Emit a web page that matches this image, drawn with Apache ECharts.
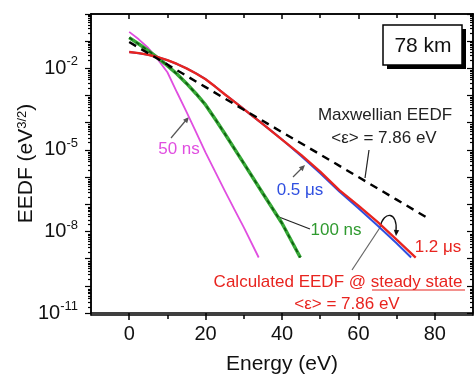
<!DOCTYPE html>
<html>
<head>
<meta charset="utf-8">
<script src="https://cdn.jsdelivr.net/npm/echarts@6/dist/echarts.min.js"></script>
<style>
  html, body { margin: 0; padding: 0; background: #fff; }
  #chart { width: 476px; height: 380px; }
</style>
</head>
<body>
<div id="chart"></div>
<script>
// Electron energy (eV) and EEDF (eV^-3/2) for each time step at 78 km
const energy50ns  = [0, 2.5, 5, 7.5, 10, 12.5, 15, 17.5, 20, 22.5, 25, 27.5, 30, 33.9];
const eedf50ns    = [2.2e-1, 1.17e-1, 5.6e-2, 2.14e-2, 7.2e-3, 1.32e-3, 2.5e-4, 4.5e-5, 7.9e-6, 1.58e-6, 3.2e-7, 6.6e-8, 1.41e-8, 1.1e-9];

const energy100ns = [0, 2.5, 5, 7.5, 10, 12.5, 15, 17.5, 20, 22.5, 25, 30, 35, 40, 44.8];
const eedf100ns   = [1.35e-1, 7.9e-2, 4.5e-2, 2.45e-2, 1.26e-2, 6.2e-3, 2.8e-3, 1.17e-3, 4.5e-4, 1.38e-4, 4.0e-5, 3.2e-6, 2.5e-7, 2.0e-8, 1.1e-9];

const energy05us  = [0, 2.5, 5, 7.5, 10, 12.5, 15, 17.5, 20, 22.5, 25, 27.5, 30, 35, 40, 45, 50, 55, 60, 65, 70, 73.8];
const eedf05us    = [4.0e-2, 3.63e-2, 3.16e-2, 2.57e-2, 2.0e-2, 1.45e-2, 1.0e-2, 6.5e-3, 4.0e-3, 2.14e-3, 1.12e-3, 6.0e-4, 3.16e-4, 8.9e-5, 2.4e-5, 6.0e-6, 1.38e-6, 2.95e-7, 7.2e-8, 1.66e-8, 3.7e-9, 1.1e-9];

const energy12us  = [0, 2.5, 5, 7.5, 10, 12.5, 15, 17.5, 20, 22.5, 25, 27.5, 30, 35, 40, 45, 50, 55, 60, 65, 70, 75];
const eedf12us    = [4.0e-2, 3.63e-2, 3.16e-2, 2.57e-2, 2.0e-2, 1.45e-2, 1.0e-2, 6.5e-3, 4.0e-3, 2.14e-3, 1.12e-3, 6.0e-4, 3.16e-4, 8.9e-5, 2.4e-5, 6.6e-6, 1.58e-6, 3.3e-7, 8.9e-8, 2.24e-8, 5.0e-9, 1.1e-9];

const energyMaxw  = [0, 10, 20, 30, 40, 50, 60, 70, 78.7];
const eedfMaxw    = [9.3e-2, 1.38e-2, 2.04e-3, 3.0e-4, 4.5e-5, 6.8e-6, 1.0e-6, 1.48e-7, 2.8e-8];

// Axis ticks
const xMajorTicks = [0, 20, 40, 60, 80];
const xMinorTicks = [10, 30, 50, 70];
const yLabelTicks = [1e-11, 1e-8, 1e-5, 1e-2];

const FONT = 'Liberation Sans, Arial, Helvetica, sans-serif';

const zip = (xs, ys) => xs.map((x, i) => [x, ys[i]]);

// Decade and sub-decade tick positions for the log axis
const yDecades = [];
const yMinors = [];
for (let e = -11; e <= 0; e++) {
  yDecades.push(Math.pow(10, e));
  if (e < 0) for (let m = 2; m <= 9; m++) yMinors.push(m * Math.pow(10, e));
}

const chart = echarts.init(document.getElementById('chart'), null, { renderer: 'canvas' });

const axisLineStyle = { color: '#000', width: 1.5 };
const plotRect = { left: 91, right: 3, top: 14, bottom: 65, containLabel: false };

function xAxisDef(grid, position, ticks, len, inside, extra) {
  return Object.assign({
    type: 'value', gridIndex: grid, position, min: -10, max: 90,
    axisLine: { show: true, onZero: false, lineStyle: axisLineStyle },
    axisTick: { show: true, inside, length: len, customValues: ticks, lineStyle: axisLineStyle },
    axisLabel: { show: false },
    splitLine: { show: false }
  }, extra || {});
}

function yAxisDef(grid, position, ticks, len, inside, extra) {
  return Object.assign({
    type: 'log', logBase: 10, gridIndex: grid, position, min: 1e-11, max: 1,
    axisLine: { show: true, onZero: false, lineStyle: axisLineStyle },
    axisTick: { show: true, inside, length: len, customValues: ticks, lineStyle: { color: '#000', width: 1.2 } },
    axisLabel: { show: false },
    splitLine: { show: false }
  }, extra || {});
}

const supRich = {
  b: { fontSize: 20, fontFamily: FONT, color: '#111', lineHeight: 26 },
  s: { fontSize: 13, fontFamily: FONT, color: '#111', verticalAlign: 'top', lineHeight: 13 }
};

function arrowHead(x1, y1, x2, y2, size, color) {
  const a = Math.atan2(y2 - y1, x2 - x1);
  const w = size * 0.45;
  const bx = x2 - size * Math.cos(a), by = y2 - size * Math.sin(a);
  return {
    type: 'polygon',
    shape: { points: [[x2, y2], [bx + w * Math.sin(a), by - w * Math.cos(a)], [bx - w * Math.sin(a), by + w * Math.cos(a)]] },
    style: { fill: color }
  };
}

function seg(x1, y1, x2, y2, color, width) {
  return { type: 'line', shape: { x1, y1, x2, y2 }, style: { stroke: color, lineWidth: width || 1.2 } };
}

function label(x, y, text, color, size) {
  return {
    type: 'text', x, y,
    style: { text, fill: color, font: (size || 17) + 'px ' + FONT, align: 'center', verticalAlign: 'middle' }
  };
}

const RED = '#e8241f', BLUE = '#2f4fe0', GREEN = '#2f9a2f', MAGENTA = '#e04ee0';

chart.setOption({
  animation: false,
  backgroundColor: '#fff',
  // grid 0 carries the data and major ticks, grid 1 (same rectangle) the minor ticks
  grid: [Object.assign({}, plotRect), Object.assign({}, plotRect)],
  xAxis: [
    xAxisDef(0, 'bottom', xMajorTicks, 7, false, {
      axisLabel: { show: true, customValues: xMajorTicks, margin: 11, fontSize: 20, fontFamily: FONT, color: '#111' },
      name: 'Energy (eV)', nameLocation: 'middle', nameGap: 41, nameMoveOverlap: false,
      nameTextStyle: { fontSize: 21, fontFamily: FONT, color: '#111' }
    }),
    xAxisDef(0, 'top', xMajorTicks, 5, true),
    xAxisDef(1, 'bottom', xMinorTicks, 4, false),
    xAxisDef(1, 'top', xMinorTicks, 4, true)
  ],
  yAxis: [
    yAxisDef(0, 'left', yDecades, 6, false, {
      axisLabel: {
        show: true, customValues: yLabelTicks, margin: 13,
        formatter: v => '{b|10}{s|' + Math.round(Math.log10(v)) + '}',
        rich: supRich
      },
      name: 'EEDF (eV{s|3/2})', nameLocation: 'middle', nameRotate: 90, nameGap: 54, nameMoveOverlap: false,
      nameTextStyle: {
        fontSize: 21, fontFamily: FONT, color: '#111',
        rich: {
          s: { fontSize: 13, fontFamily: FONT, color: '#111', verticalAlign: 'top', lineHeight: 13 }
        }
      }
    }),
    yAxisDef(0, 'right', yDecades, 6, true),
    yAxisDef(1, 'left', yMinors, 3, false),
    yAxisDef(1, 'right', yMinors, 3, true)
  ],
  series: [
    {
      name: '50 ns', type: 'line', data: zip(energy50ns, eedf50ns),
      xAxisIndex: 0, yAxisIndex: 0, showSymbol: false,
      lineStyle: { color: MAGENTA, width: 1.8 }, z: 2
    },
    {
      name: '100 ns', type: 'line', data: zip(energy100ns, eedf100ns),
      xAxisIndex: 0, yAxisIndex: 0, showSymbol: false,
      lineStyle: { color: '#36a836', width: 3.5 }, z: 3
    },
    {
      name: '100 ns dash', type: 'line', data: zip(energy100ns, eedf100ns),
      xAxisIndex: 0, yAxisIndex: 0, showSymbol: false,
      lineStyle: { color: '#0e5a10', width: 1.6, type: [4, 4] }, z: 4
    },
    {
      name: '0.5 μs', type: 'line', data: zip(energy05us, eedf05us),
      xAxisIndex: 0, yAxisIndex: 0, showSymbol: false,
      lineStyle: { color: BLUE, width: 2 }, z: 5
    },
    {
      name: '1.2 μs', type: 'line', data: zip(energy12us, eedf12us),
      xAxisIndex: 0, yAxisIndex: 0, showSymbol: false,
      lineStyle: { color: RED, width: 2.4 }, z: 6
    },
    {
      name: 'Maxwellian EEDF', type: 'line', data: zip(energyMaxw, eedfMaxw),
      xAxisIndex: 0, yAxisIndex: 0, showSymbol: false,
      lineStyle: { color: '#000', width: 2.4, type: [8, 6] }, z: 7
    }
  ],
  graphic: [
    // altitude box with drop shadow
    { type: 'rect', shape: { x: 387, y: 29, width: 79, height: 40 }, style: { fill: '#000' }, z: 10 },
    { type: 'rect', shape: { x: 383, y: 25, width: 79, height: 40 }, style: { fill: '#fff', stroke: '#000', lineWidth: 1.5 }, z: 11 },
    Object.assign(label(423, 46, '78 km', '#111', 21), { z: 12 }),

    // 50 ns
    label(179, 149, '50 ns', MAGENTA),
    seg(171, 138, 187, 119, '#555'),
    arrowHead(171, 138, 189, 117, 6, '#555'),

    // 0.5 μs
    label(300, 190, '0.5 μs', BLUE),
    seg(293, 177, 303, 167, '#555'),
    arrowHead(293, 177, 305, 165, 6, '#555'),

    // 100 ns
    label(336, 230, '100 ns', GREEN),
    seg(310, 229, 279, 217, '#222'),

    // Maxwellian
    label(385, 115, 'Maxwellian EEDF', '#222'),
    label(384, 138, '<ε> = 7.86 eV', '#222'),
    seg(369, 150, 365, 178, '#222'),

    // 1.2 μs
    label(438, 247, '1.2 μs', RED),
    {
      type: 'bezierCurve',
      shape: { x1: 380, y1: 227, cpx1: 384, cpy1: 210, cpx2: 398, cpy2: 212, x2: 396, y2: 231 },
      style: { stroke: '#111', lineWidth: 1.3, fill: null }
    },
    arrowHead(397, 224, 396, 236, 6, '#111'),

    // steady state
    seg(352, 270, 381, 226, '#666'),
    label(338, 282, 'Calculated EEDF @ steady state', RED),
    seg(372, 290, 465, 290, RED, 1.2),
    label(347, 304, '<ε> = 7.86 eV', RED)
  ]
});
</script>
</body>
</html>
